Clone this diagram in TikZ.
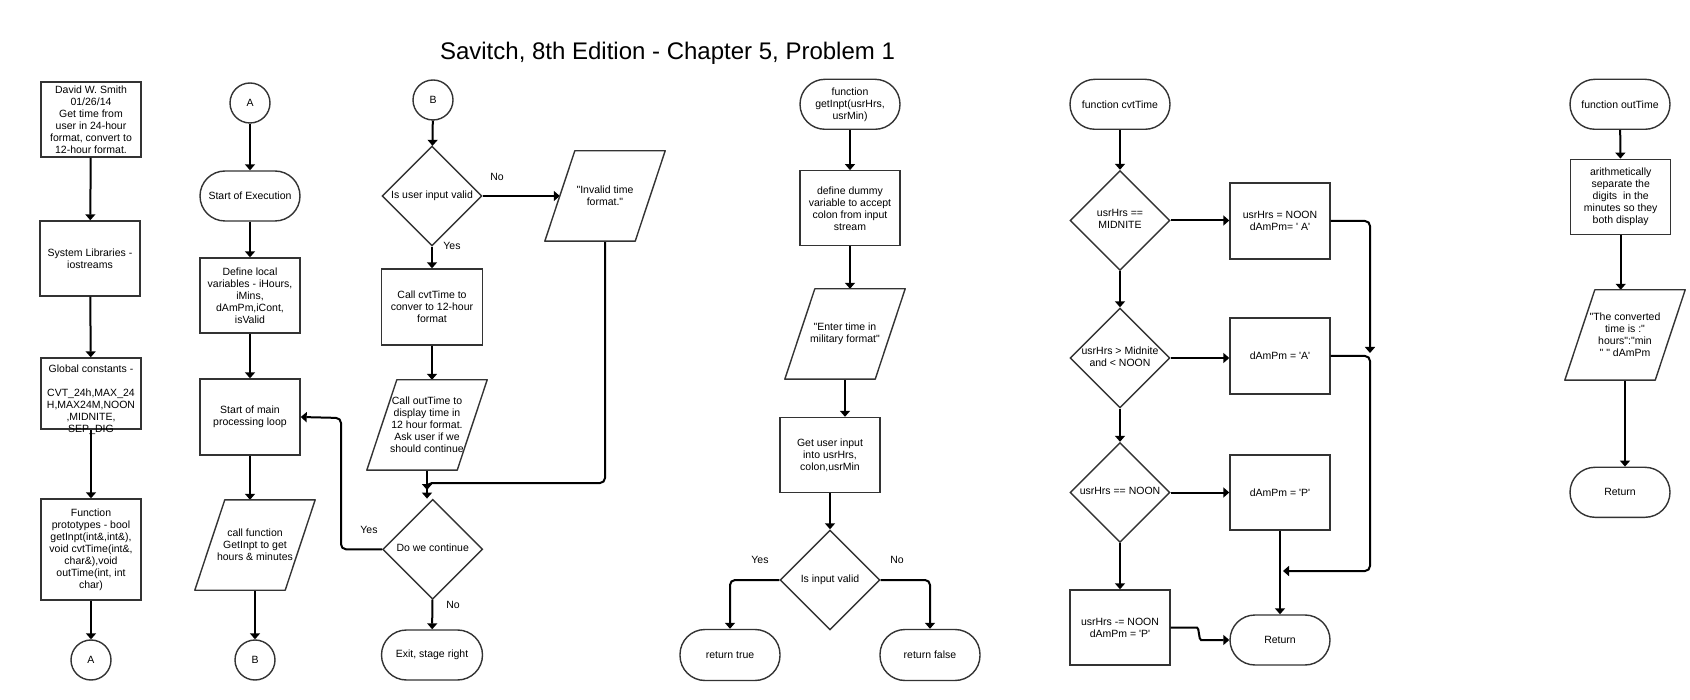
\documentclass[tikz,border=0pt]{standalone}
\usepackage{fontspec}
\setmainfont{Liberation Sans}[Ligatures=TeXOff]
\usetikzlibrary{shapes.geometric,arrows.meta}
\newcommand{\dtxt}[1]{\makebox[0pt]{\begin{tabular}{@{}c@{}}#1\end{tabular}}}
\begin{document}
\begin{tikzpicture}[x=1pt, y=-1pt,
  baseShape/.style={draw=flowShapeColor, line width=\flowShapeWidth, inner sep=0pt, align=center, font=\fontsize{10.5}{12}\selectfont},
  procBox/.style={baseShape, rectangle, minimum width=100pt, minimum height=75pt},
  termBox/.style={baseShape, rectangle, rounded corners=25pt, minimum width=100pt, minimum height=50pt},
  decBox/.style={baseShape, diamond, minimum width=100pt, minimum height=100pt},
  connBox/.style={baseShape, circle, minimum size=40pt},
  ioBox/.style={inner sep=0pt, align=center, font=\fontsize{10.5}{12}\selectfont, minimum width=90pt, minimum height=90pt},
  ioLine/.style={draw=flowShapeColor, line width=\flowShapeWidth, line join=round},
  flow/.style={draw=black, line width=\flowArrowWidth, rounded corners=5pt, -{Triangle[length=6pt,width=10pt]}},
  tag/.style={inner sep=0pt, font=\fontsize{10.5}{12}\selectfont}]
% Flowchart redrawn from a draw.io export
\providecommand{\flowShapeWidth}{1.4pt}
\providecommand{\flowArrowWidth}{2pt}
\definecolor{flowShapeColor}{HTML}{333333}
% Page
\path[fill=white] (0,0) rectangle (1690,700);
\node[font=\fontsize{24}{28}\selectfont, inner sep=0pt] (title) at (667.5,53) {Savitch, 8th Edition - Chapter 5, Problem 1};
% Column 1: header and declarations
\node[procBox] (header) at (91,119.5) {David W. Smith\\01/26/14\\Get time from\\user in 24-hour\\format, convert to\\12-hour format.};
\node[procBox] (syslibs) at (90,258.5) {System Libraries -\\iostreams};
\node[procBox, minimum height=71pt] (consts) at (91,393.5) {\raisebox{-9pt}[0pt][0pt]{\begin{tabular}{@{}c@{}}Global constants -\\[12pt]CVT\_24h,MAX\_24\\H,MAX24M,NOON\\,MIDNITE,\\SEP\_DIG\end{tabular}}};
\node[procBox, minimum height=101pt] (protos) at (91,549.5) {Function\\prototypes - bool\\getInpt(int\&,int\&),\\void cvtTime(int\&,\\char\&),void\\outTime(int, int\\char)};
\node[connBox] (offA) at (91,660) {A};
\draw[flow] (header) -- (syslibs);
\draw[flow] (syslibs) -- (consts);
\draw[flow] (consts) -- (protos);
\draw[flow] (protos) -- (offA);
% Column 2: start of main
\node[connBox] (onA) at (250,103) {A};
\node[termBox] (start) at (250,196) {Start of Execution};
\node[procBox] (locals) at (250,295.5) {Define local\\variables - iHours,\\iMins,\\dAmPm,iCont,\\isValid};
\node[procBox, minimum height=76pt] (mainloop) at (250,417) {Start of main\\processing loop};
\node[ioBox] (callfn) at (255,545) {call function\\GetInpt to get\\hours \& minutes};
\node[connBox] (offB) at (255,660) {B};
\draw[flow] (onA) -- (start);
\draw[flow] (start) -- (locals);
\draw[flow] (locals) -- (mainloop);
\draw[flow] (mainloop.south) -- (mainloop.south |- callfn.north);
\draw[flow] (callfn) -- (offB);
% Column 3: validate, convert, repeat
\node[connBox] (onB) at (433,100) {B};
\node[decBox] (valid) at (432,196) {\dtxt{Is user input valid}};
\node[ioBox] (badtime) at (605,196) {"Invalid time\\format."};
\node[procBox, minimum width=101pt, minimum height=76pt] (convert) at (432,307) {Call cvtTime to\\conver to 12-hour\\format};
\node[ioBox] (callout) at (427,425) {Call outTime to\\display time in\\12 hour format.\\Ask user if we\\should continue};
\node[decBox] (again) at (432.7,549.3) {\dtxt{Do we continue}};
\node[termBox, minimum width=101pt] (exit) at (432,655) {Exit, stage right};
\coordinate (join) at (427,483);
\coordinate (joinend) at (427,490);
\coordinate (loopturn) at (341,418);
\draw[flow] (onB) -- (valid);
\draw[flow] (valid.east) -- (valid.east -| badtime.west);
\draw[flow] (valid) -- (convert);
\draw[flow] (convert.south) -- (convert.south |- callout.north);
\draw[flow] (badtime.south) |- (join) -- (joinend);
\draw[flow] (callout.south) -- (callout.south |- again.north);
\draw[flow] (again.west) -| (loopturn) -- (mainloop.east);
\draw[flow] (again) -- (exit);
\node[tag] (nobad) at (497,177) {No};
\node[tag] (yesgood) at (452,246) {Yes};
\node[tag] (yesloop) at (369,530) {Yes};
\node[tag] (noloop) at (453,605) {No};
% Column 4: function getInpt
\node[termBox] (getfn) at (850,104.3) {function\\getInpt(usrHrs,\\usrMin)};
\node[procBox] (dummy) at (850,208.3) {define dummy\\variable to accept\\colon from input\\stream};
\node[ioBox] (prompt) at (845,334) {"Enter time in\\military format"};
\node[procBox] (readin) at (830,455) {Get user input\\into usrHrs,\\colon,usrMin};
\node[decBox] (inok) at (830,580) {\dtxt{Is input valid}};
\node[termBox, minimum height=51pt] (rettrue) at (730,655) {return true};
\node[termBox, minimum height=51pt] (retfalse) at (930,655) {return false};
\draw[flow] (getfn) -- (dummy);
\draw[flow] (dummy.south) -- (dummy.south |- prompt.north);
\draw[flow] (prompt.south) -- (prompt.south |- readin.north);
\draw[flow] (readin) -- (inok);
\draw[flow] (inok.west) -| (rettrue.north);
\draw[flow] (inok.east) -| (retfalse.north);
\node[tag] (yestrue) at (760,560) {Yes};
\node[tag] (nofalse) at (897,560) {No};
% Column 5: function cvtTime
\node[termBox] (cvtfn) at (1120,104.3) {function cvtTime};
\node[decBox] (ismid) at (1120,220.5) {\dtxt{usrHrs ==\\MIDNITE}};
\node[procBox, minimum height=76pt] (setnoon) at (1280,221) {usrHrs = NOON\\dAmPm= ' A'};
\node[decBox] (ismorn) at (1120,358) {\dtxt{usrHrs > Midnite\\and < NOON}};
\node[procBox, minimum height=76pt] (seta) at (1280,356) {dAmPm = 'A'};
\node[decBox] (isnoon) at (1120,492.5) {\dtxt{usrHrs == NOON}};
\node[procBox] (setp) at (1280,492.5) {dAmPm = 'P'};
\node[procBox] (subnoon) at (1120,627.5) {usrHrs -= NOON\\dAmPm = 'P'};
\node[termBox] (cvtret) at (1280,640) {Return};
\coordinate (noonend) at (1370,353);
\coordinate (aturn) at (1370,571);
\coordinate (aend) at (1283,571);
\coordinate (bendin) at (1192,627.5);
\coordinate (bendout) at (1206,640);
\draw[flow] (cvtfn) -- (ismid);
\draw[flow] (ismid.east) -- (ismid.east -| setnoon.west);
\draw[flow] (ismid) -- (ismorn);
\draw[flow] (ismorn.east) -- (ismorn.east -| seta.west);
\draw[flow] (ismorn) -- (isnoon);
\draw[flow] (isnoon.east) -- (isnoon.east -| setp.west);
\draw[flow] (isnoon) -- (subnoon);
\draw[flow] (setp) -- (cvtret);
\draw[flow] (setnoon.east) -| (noonend);
\draw[flow] (seta.east) -| (aturn) -- (aend);
\draw[flow] (subnoon.east) -- (bendin) to[out=0, in=180] (bendout) -- (cvtret.west);
% Column 6: function outTime
\node[termBox] (outfn) at (1620,104.3) {function outTime};
\node[procBox] (split) at (1620.7,196.8) {arithmetically\\separate the\\digits\ \ in the\\minutes so they\\both display};
\node[ioBox] (showtime) at (1625,335) {"The converted\\time is :"\\hours":"min\\" " dAmPm};
\node[termBox] (outret) at (1620,492.3) {Return};
\draw[flow] (outfn) -- (split);
\draw[flow] (split.south) -- (split.south |- showtime.north);
\draw[flow] (showtime.south) -- (showtime.south |- outret.north);
% Parallelogram outlines
\foreach \n in {callfn, badtime, callout, prompt, showtime}
  \draw[ioLine] ([xshift=-15pt]\n.south west) -- ([xshift=-15pt]\n.south east) -- ([xshift=15pt]\n.north east) -- ([xshift=15pt]\n.north west) -- cycle;
\end{tikzpicture}
\end{document}
